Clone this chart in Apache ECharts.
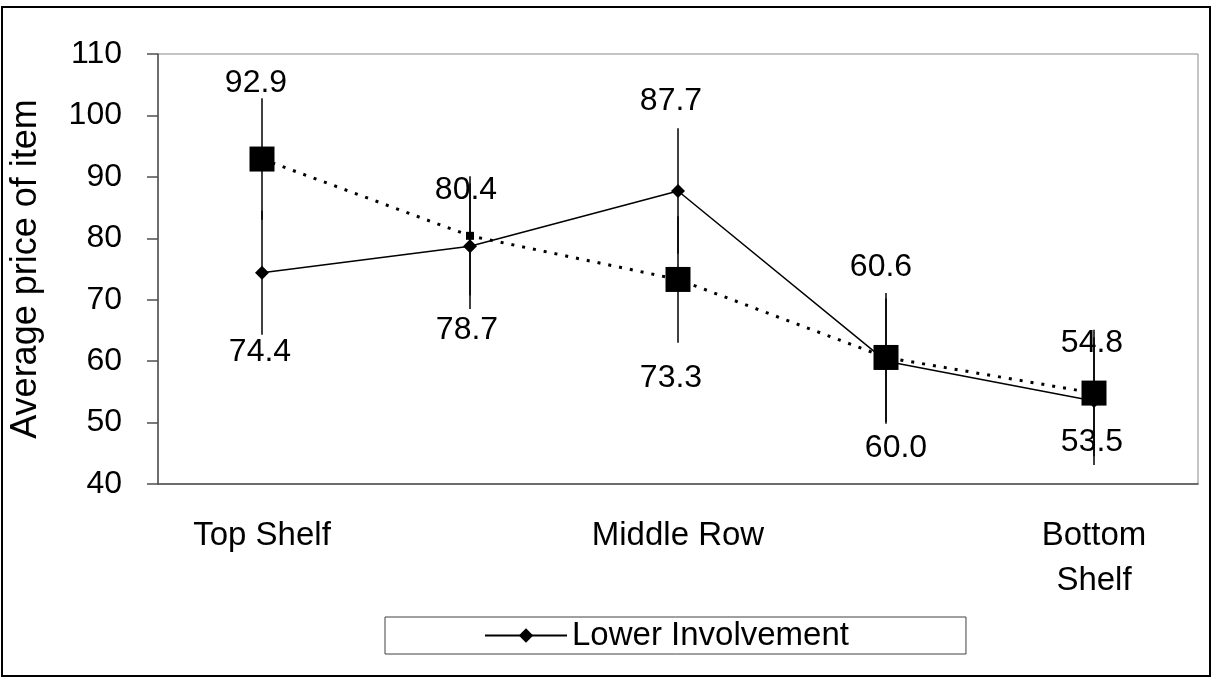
<!DOCTYPE html>
<html>
<head>
<meta charset="utf-8">
<script src="https://cdn.jsdelivr.net/npm/echarts@6/dist/echarts.min.js"></script>
<style>
html, body { margin: 0; padding: 0; background: #fff; }
#chart { width: 1215px; height: 677px; }
</style>
</head>
<body>
<div id="chart"></div>
<script>
// shelf positions (only three are labelled on the axis)
var shelves = ['Top Shelf', '', 'Middle Row', '', 'Bottom\nShelf'];

// Lower Involvement (solid line, small diamonds)
var lowerInvolvement = [74.4, 78.7, 87.7, 60.0, 53.5];
var lowerError = [10.1, 10.2, 10.2, 10.2, 10.4];

// the other group (dotted line, big squares, not in the legend)
var higherInvolvement = [92.9, 80.4, 73.3, 60.6, 54.8];
var higherError = [9.9, 9.7, 10.3, 10.5, 10.3];

var dom = document.getElementById('chart');
var myChart = echarts.init(dom);

var FONT = 'Liberation Sans, Arial, sans-serif';

// hand placed value labels, like in the original sheet
var lowerLabelShift = [[-2, 79], [-3, 84], [-7, -90], [10, 87], [-2, 41]];
var higherLabelShift = [[-6, -76], [-4, -46], [-7, 99], [-5, -90], [-2, -50]];

function errorBars(values, errs) {
    return {
        type: 'custom',
        silent: true,
        z: 1,
        data: values.map(function (v, i) { return [i, v - errs[i], v + errs[i]]; }),
        encode: { x: 0, y: [1, 2] },
        renderItem: function (params, api) {
            var lo = api.coord([api.value(0), api.value(1)]);
            var hi = api.coord([api.value(0), api.value(2)]);
            return {
                type: 'line',
                shape: { x1: lo[0], y1: lo[1], x2: hi[0], y2: hi[1] },
                style: { stroke: '#000', lineWidth: 1.5 }
            };
        }
    };
}

function withLabels(values, shifts) {
    return values.map(function (v, i) {
        return { value: v, label: { offset: shifts[i] } };
    });
}

var higherData = withLabels(higherInvolvement, higherLabelShift);
higherData[1].symbolSize = 8;

var valueLabel = {
    show: true,
    position: 'inside',
    color: '#000',
    fontSize: 32,
    fontFamily: FONT,
    formatter: function (p) { return p.value.toFixed(1); }
};

option = {
    animation: false,
    backgroundColor: '#fff',
    textStyle: { fontFamily: FONT },
    graphic: [{
        type: 'rect',
        silent: true,
        shape: { x: 2, y: 7, width: 1208, height: 669 },
        style: { fill: 'none', stroke: '#000', lineWidth: 2 }
    }],
    legend: {
        data: ['Lower Involvement'],
        left: 385,
        top: 617,
        padding: [2, 117, 2, 99],
        itemWidth: 82,
        itemHeight: 18,
        borderColor: '#404040',
        borderWidth: 1,
        textStyle: { color: '#000', fontSize: 33, fontFamily: FONT }
    },
    grid: {
        left: 158,
        right: 17,
        top: 54,
        bottom: 193,
        show: true,
        borderColor: '#888',
        borderWidth: 1
    },
    xAxis: {
        type: 'category',
        data: shelves,
        boundaryGap: true,
        axisLine: { lineStyle: { color: '#505050', width: 1.5 } },
        axisTick: { alignWithLabel: false, length: 11, interval: 0, lineStyle: { color: '#505050', width: 1.5 } },
        axisLabel: {
            interval: 0,
            margin: 29,
            color: '#000',
            fontSize: 33,
            lineHeight: 45,
            fontFamily: FONT
        },
        splitLine: { show: false }
    },
    yAxis: {
        type: 'value',
        min: 40,
        max: 110,
        interval: 10,
        name: 'Average price of item',
        nameLocation: 'middle',
        nameGap: 114,
        nameTextStyle: { color: '#000', fontSize: 36, fontFamily: FONT },
        axisLine: { show: true, lineStyle: { color: '#505050', width: 1.5 } },
        axisTick: { show: true, length: 11, lineStyle: { color: '#505050', width: 1.5 } },
        axisLabel: { margin: 36, color: '#000', fontSize: 32, fontFamily: FONT },
        splitLine: { show: false }
    },
    series: [
        errorBars(lowerInvolvement, lowerError),
        errorBars(higherInvolvement, higherError),
        {
            name: 'Lower Involvement',
            type: 'line',
            z: 3,
            data: withLabels(lowerInvolvement, lowerLabelShift),
            symbol: 'diamond',
            symbolSize: 14,
            showAllSymbol: true,
            itemStyle: { color: '#000' },
            lineStyle: { color: '#000', width: 1.5 },
            label: valueLabel
        },
        {
            name: 'Higher Involvement',
            type: 'line',
            z: 4,
            data: higherData,
            symbol: 'rect',
            symbolSize: 25,
            showAllSymbol: true,
            itemStyle: { color: '#000' },
            lineStyle: { color: '#000', width: 3, type: [3, 8] },
            label: valueLabel
        }
    ]
};

if (option && typeof option === 'object') {
    myChart.setOption(option, true);
}
</script>
</body>
</html>
